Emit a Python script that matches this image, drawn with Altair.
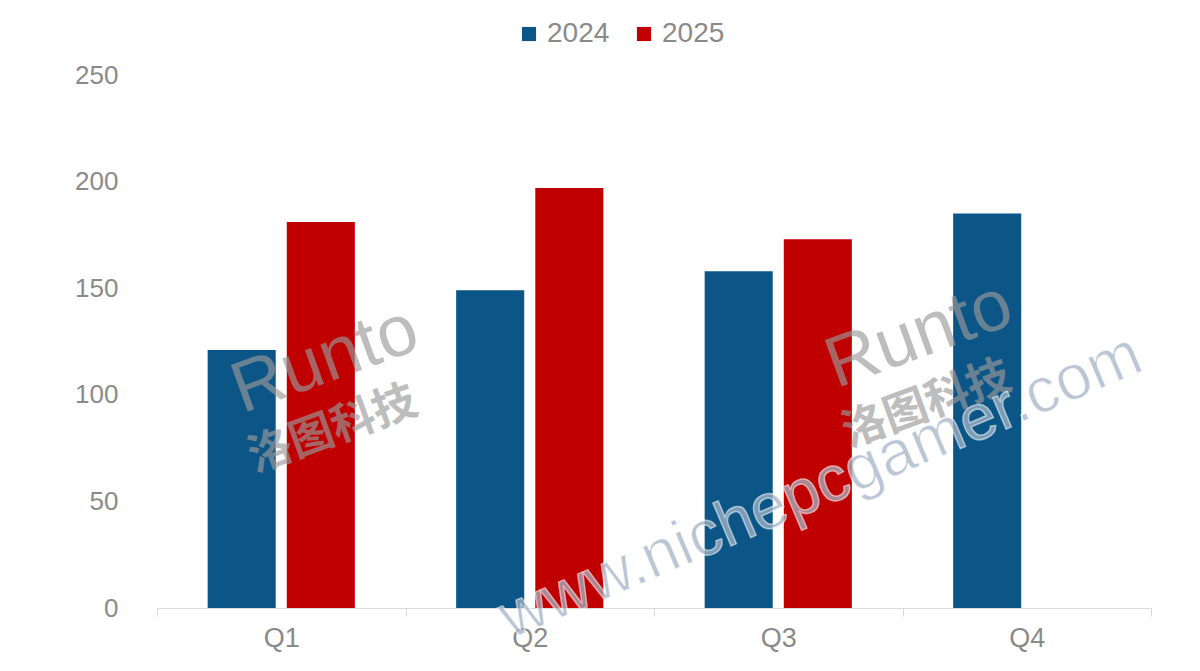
import altair as alt
import pandas as pd

quarters = ["Q1", "Q2", "Q3", "Q4"]
years = ["2024", "2025"]
values_2024 = [121, 149, 158, 185]
values_2025 = [181, 197, 173, None]
y_ticks = [0, 50, 100, 150, 200, 250]
colors = ["#0B5587", "#C00000"]

rows = []
for q, v in zip(quarters, values_2024):
    if v is not None:
        rows.append({"quarter": q, "year": "2024", "value": v})
for q, v in zip(quarters, values_2025):
    if v is not None:
        rows.append({"quarter": q, "year": "2025", "value": v})
df = pd.DataFrame(rows)

FONT = "Liberation Sans"
GREY = "#8a8a8a"

bars = alt.Chart(df).mark_bar().encode(
    x=alt.X(
        "quarter:N",
        sort=quarters,
        scale=alt.Scale(domain=quarters, paddingInner=0, paddingOuter=0),
        axis=alt.Axis(
            title=None, labelAngle=0, tickBand="extent",
            domainColor="#d9d9d9", tickColor="#d9d9d9", tickSize=8,
            labelFontSize=27, labelColor=GREY, labelFont=FONT, labelPadding=9,
        ),
    ),
    xOffset=alt.XOffset("year:N", scale=alt.Scale(domain=years, paddingInner=0.14, paddingOuter=0.64)),
    y=alt.Y(
        "value:Q",
        scale=alt.Scale(domain=[0, 250], nice=False),
        axis=alt.Axis(
            title=None, values=y_ticks, grid=False, domain=False, ticks=False,
            labelFontSize=26, labelColor=GREY, labelFont=FONT, labelPadding=39,
        ),
    ),
    color=alt.Color(
        "year:N",
        scale=alt.Scale(domain=years, range=colors),
        legend=alt.Legend(
            title=None, orient="none", legendX=358, legendY=-55, direction="horizontal",
            symbolType="square", symbolSize=200, symbolStrokeWidth=0, symbolOpacity=1,
            labelFontSize=28, labelColor=GREY, labelFont=FONT, labelOffset=4,
            columnPadding=20,
        ),
    ),
)

wm_main = ["www.nichepcgamer.com"]
wm_logo = ["Runto"]
wm_cn = ["洛图科技"]

site = alt.Chart(pd.DataFrame({"t": wm_main})).mark_text(
    fontSize=64, font=FONT, angle=337, color="#a3b4c6", opacity=0.75,
    stroke="white", strokeWidth=1.5, strokeOpacity=0.8,
    align="center", baseline="middle",
).encode(text="t:N", x=alt.value(664), y=alt.value(412))

logo1 = alt.Chart(pd.DataFrame({"t": wm_logo})).mark_text(
    fontSize=72, font=FONT, angle=340, color="#9a9a9a", opacity=0.65,
    align="center", baseline="middle",
).encode(text="t:N", x=alt.value(168), y=alt.value(285))
cn1 = alt.Chart(pd.DataFrame({"t": wm_cn})).mark_text(
    fontSize=44, font="Noto Sans CJK SC", fontWeight="bold", angle=340, color="#9a9a9a", opacity=0.65,
    align="center", baseline="middle",
).encode(text="t:N", x=alt.value(176), y=alt.value(355))
logo2 = alt.Chart(pd.DataFrame({"t": wm_logo})).mark_text(
    fontSize=72, font=FONT, angle=340, color="#9a9a9a", opacity=0.65,
    align="center", baseline="middle",
).encode(text="t:N", x=alt.value(762), y=alt.value(260))
cn2 = alt.Chart(pd.DataFrame({"t": wm_cn})).mark_text(
    fontSize=44, font="Noto Sans CJK SC", fontWeight="bold", angle=340, color="#9a9a9a", opacity=0.65,
    align="center", baseline="middle",
).encode(text="t:N", x=alt.value(770), y=alt.value(330))

chart = alt.layer(bars, logo1, cn1, logo2, cn2, site).properties(
    width=994, height=533,
    autosize=alt.AutoSizeParams(type="none"),
    padding={"left": 149, "top": 67, "right": 35, "bottom": 55},
    background="white",
).configure_view(stroke=None)

chart.save("out.html", embed_options={"renderer": "svg", "actions": False})
